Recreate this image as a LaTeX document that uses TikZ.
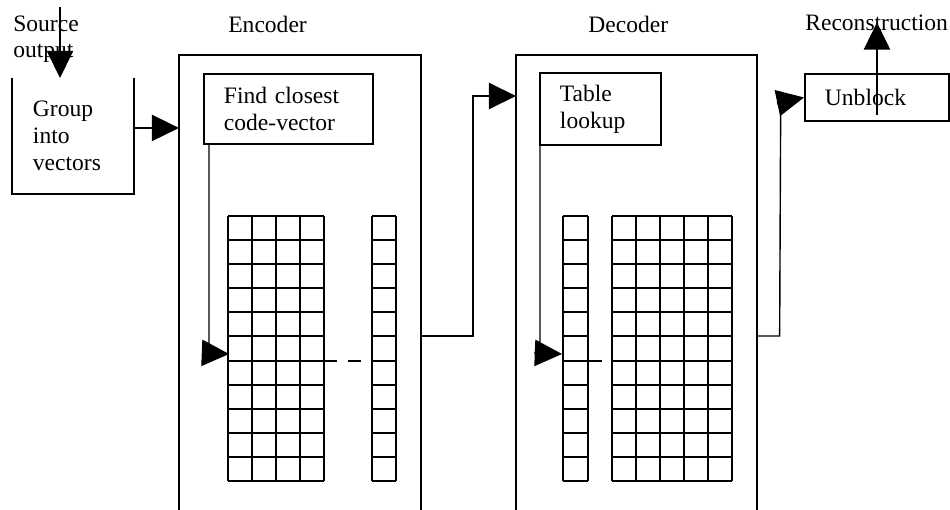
\documentclass[tikz,border=0pt]{standalone}
\usepackage{fontspec}
\setmainfont{Liberation Serif}
\usetikzlibrary{arrows.meta, calc, positioning}

\tikzset{
  blk/.style={draw, line width=1.1pt, anchor=north west, align=left, inner xsep=0.4cm, inner ysep=0pt},
  frame/.style={anchor=north west, inner sep=0pt},
  lbl/.style={anchor=base west, align=left, inner sep=0pt},
  conn/.style={line width=0.8pt, -{Triangle[length=15.5pt, width=15pt]}},
  cell/.style={line width=1.1pt},
}

\begin{document}
\begin{tikzpicture}[x=0.02cm, y=-0.02cm, font=\fontsize{13.4}{15.3}\selectfont]
\useasboundingbox (0,0) rectangle (950,510);

% titles
\node[lbl] (src) at (13,58) {Source\\output};
\node[lbl] (enctxt) at (228,33) {Encoder};
\node[lbl] (dectxt) at (588,33) {Decoder};
\node[lbl] (recon) at (805,31) {Reconstruction};

% encoder and decoder frames, open at the bottom
\node[frame, minimum width=4.82cm, minimum height=9.3cm] (enc) at (179,55) {};
\node[frame, minimum width=4.8cm, minimum height=9.3cm] (dec) at (516,55) {};
\draw[cell] (enc.south west) -- (enc.north west) -- (enc.north east) -- (enc.south east);
\draw[cell] (dec.south west) -- (dec.north west) -- (dec.north east) -- (dec.south east);

% blocks
\node[blk, draw=none, text width=1.6cm, minimum height=2.28cm] (group) at (12,78) {Group\\into\\vectors};
\draw[cell] (group.north west) -- (group.south west) -- (group.south east) -- (group.north east);
\node[blk, text width=2.58cm, minimum height=1.4cm] (find) at (203,73) {Find closest\\code-vector};
\node[blk, text width=1.62cm, minimum height=1.44cm] (table) at (539,72) {Table\\lookup};
\node[blk, text width=2.08cm, minimum height=0.94cm] (unblock) at (804,73) {Unblock};

% codebooks and index columns
\foreach \x/\n/\w in {228/4/24, 372/1/24, 563/1/25, 612/5/24} {
  \foreach \i in {0,...,\n}
    \draw[cell] (\x+\w*\i,216) -- (\x+\w*\i,481);
  \foreach \j in {0,...,11}
    \draw[cell] (\x,216+24.09*\j) -- (\x+\w*\n,216+24.09*\j);
}

\coordinate (encrow) at (229,354);
\coordinate (decrow) at (562,354);
\coordinate (cbR) at (324,361);
\coordinate (ixL) at (372,361);
\coordinate (ixR) at (588,361);
\coordinate (cbL) at (602,361);
\coordinate (srcin) at (60,7);
\coordinate (eout) at (enc.east |- 0,336);
\coordinate (dout) at (dec.east |- 0,336);
\coordinate (din) at ($(dec.north west)+(0,41)$);

% connectors
\draw[conn] (srcin) -- (srcin |- group.north);
\draw[conn] (group.east) ++(0,-8) coordinate (g1) -- (g1 -| enc.west);
\draw[conn] (find.south west) ++(6,0) -- ++(0,199) -- ++(-6,9) -- (encrow);
\draw[cell, dash pattern=on 7.4pt off 6.2pt] (cbR) -- (ixL);
\draw[conn] (eout) -| ($(din)+(-43,0)$) -- (din);
\draw[conn] (table.south west) ++(1,0) -- ++(0,196) -- ++(-5,11) -- (decrow);
\draw[line width=0.8pt] (ixR) -- (cbL);
\draw[conn] (dout) -- ++(23,0) -- ++(1,-226) -- ++(-3,-7) -- (unblock.west);
\draw[conn] (unblock.center) ++(0,18) -- ++(0,-93);
\end{tikzpicture}
\end{document}
